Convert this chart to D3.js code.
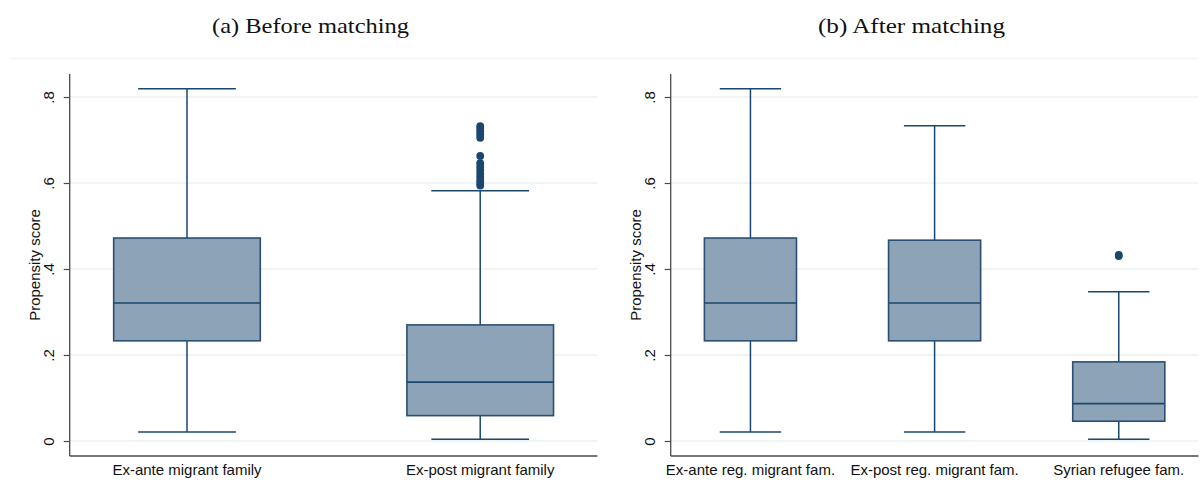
<!DOCTYPE html>
<html>
<head>
<meta charset="utf-8">
<script src="https://cdn.jsdelivr.net/npm/d3@7"></script>
<style>
  html, body { margin: 0; padding: 0; background: #ffffff; }
  svg { display: block; }
</style>
</head>
<body>
<svg id="chart" width="1200" height="486"></svg>
<script>
// ---------- DATA ----------
const titleA = "(a) Before matching";
const titleB = "(b) After matching";
const yAxisTitle = "Propensity score";
const yTicks = [0, 0.2, 0.4, 0.6, 0.8];
const yTickLabels = ["0", ".2", ".4", ".6", ".8"];

const catsA = ["Ex-ante migrant family", "Ex-post migrant family"];
const lowA  = [0.021, 0.004];
const q1A   = [0.233, 0.059];
const medA  = [0.321, 0.137];
const q3A   = [0.472, 0.270];
const highA = [0.819, 0.582];
const outA  = [[], [0.732, 0.726, 0.720, 0.713, 0.705, 0.663, 0.646, 0.638, 0.630, 0.622, 0.614, 0.606, 0.600, 0.594]];

const catsB = ["Ex-ante reg. migrant fam.", "Ex-post reg. migrant fam.", "Syrian refugee fam."];
const lowB  = [0.021, 0.021, 0.004];
const q1B   = [0.233, 0.233, 0.046];
const medB  = [0.321, 0.321, 0.087];
const q3B   = [0.472, 0.467, 0.184];
const highB = [0.819, 0.733, 0.347];
const outB  = [[], [], [0.430, 0.433]];

// ---------- STYLE ----------
const navy = "#1a476f";
const boxFill = "#8da3b7";
const gridCol = "#eaf1f2";
const axisCol = "#4a4a4a";
const sansFont = "'Liberation Sans', Arial, sans-serif";
const serifFont = "'Liberation Serif', 'Times New Roman', serif";

const svg = d3.select("#chart");

// separator line at top of panels
svg.append("line")
  .attr("x1", 10).attr("x2", 1198).attr("y1", 58.5).attr("y2", 58.5)
  .attr("stroke", "#eef3f3").attr("stroke-width", 1.5);

function panel(opts) {
  const { offsetX, title, titleX, titleW, cats, low, q1, med, q3, high, outs, pad } = opts;
  const axisX = 69.7 + offsetX;
  const plotRight = 597.5 + offsetX;
  const plotTop = 74, plotBottom = 456;

  const y = d3.scaleLinear().domain([0, 0.8]).range([441, 97]);
  const x = d3.scalePoint().domain(cats).range([axisX, plotRight]).padding(pad);
  const bw = x.step() * 0.5;
  const cw = bw * 2 / 3;

  const g = svg.append("g");

  // title
  g.append("text")
    .attr("x", titleX).attr("y", 33)
    .attr("text-anchor", "middle")
    .attr("font-family", serifFont)
    .attr("font-size", 21.5)
    .attr("textLength", titleW)
    .attr("lengthAdjust", "spacingAndGlyphs")
    .attr("fill", "#111")
    .text(title);

  // gridlines
  g.append("g").selectAll("line").data(yTicks).join("line")
    .attr("x1", axisX).attr("x2", plotRight)
    .attr("y1", d => y(d)).attr("y2", d => y(d))
    .attr("stroke", gridCol).attr("stroke-width", 1.5);

  // y axis
  const ax = g.append("g").attr("transform", `translate(${axisX},0)`)
    .call(d3.axisLeft(y).tickValues(yTicks)
      .tickFormat((d, i) => yTickLabels[i]).tickSize(6).tickSizeOuter(0));
  ax.select(".domain").remove();
  ax.selectAll(".tick line").attr("stroke", axisCol).attr("stroke-width", 1.2);
  ax.selectAll(".tick text")
    .attr("transform", "rotate(-90)")
    .attr("x", 0).attr("y", -16).attr("dy", 0)
    .attr("text-anchor", "middle")
    .attr("font-family", sansFont).attr("font-size", 15)
    .attr("fill", "#111");

  // axis lines
  g.append("line")
    .attr("x1", axisX).attr("x2", axisX).attr("y1", plotTop).attr("y2", plotBottom)
    .attr("stroke", axisCol).attr("stroke-width", 1.3);
  g.append("line")
    .attr("x1", axisX).attr("x2", plotRight).attr("y1", plotBottom).attr("y2", plotBottom)
    .attr("stroke", axisCol).attr("stroke-width", 1.3);

  // y axis title
  g.append("text")
    .attr("transform", `translate(${axisX - 30},265) rotate(-90)`)
    .attr("text-anchor", "middle")
    .attr("font-family", sansFont).attr("font-size", 15)
    .attr("fill", "#111")
    .text(yAxisTitle);

  // category labels
  g.append("g").selectAll("text").data(cats).join("text")
    .attr("x", d => x(d)).attr("y", 475)
    .attr("text-anchor", "middle")
    .attr("font-family", sansFont).attr("font-size", 15)
    .attr("fill", "#111")
    .text(d => d);

  const idx = cats.map((c, i) => i);
  const boxes = g.append("g");

  // whiskers
  boxes.selectAll(".wu").data(idx).join("line")
    .attr("x1", i => x(cats[i])).attr("x2", i => x(cats[i]))
    .attr("y1", i => y(q3[i])).attr("y2", i => y(high[i]))
    .attr("stroke", navy).attr("stroke-width", 1.5);
  boxes.selectAll(".wl").data(idx).join("line")
    .attr("x1", i => x(cats[i])).attr("x2", i => x(cats[i]))
    .attr("y1", i => y(q1[i])).attr("y2", i => y(low[i]))
    .attr("stroke", navy).attr("stroke-width", 1.5);
  // caps
  boxes.selectAll(".cu").data(idx).join("line")
    .attr("x1", i => x(cats[i]) - cw / 2).attr("x2", i => x(cats[i]) + cw / 2)
    .attr("y1", i => y(high[i])).attr("y2", i => y(high[i]))
    .attr("stroke", navy).attr("stroke-width", 1.5);
  boxes.selectAll(".cl").data(idx).join("line")
    .attr("x1", i => x(cats[i]) - cw / 2).attr("x2", i => x(cats[i]) + cw / 2)
    .attr("y1", i => y(low[i])).attr("y2", i => y(low[i]))
    .attr("stroke", navy).attr("stroke-width", 1.5);
  // boxes
  boxes.selectAll(".bx").data(idx).join("rect")
    .attr("x", i => x(cats[i]) - bw / 2).attr("width", bw)
    .attr("y", i => y(q3[i])).attr("height", i => y(q1[i]) - y(q3[i]))
    .attr("fill", boxFill).attr("stroke", "#2a4f73").attr("stroke-width", 1.6);
  // medians
  boxes.selectAll(".md").data(idx).join("line")
    .attr("x1", i => x(cats[i]) - bw / 2).attr("x2", i => x(cats[i]) + bw / 2)
    .attr("y1", i => y(med[i])).attr("y2", i => y(med[i]))
    .attr("stroke", navy).attr("stroke-width", 1.6);
  // outliers
  const pts = [];
  outs.forEach((arr, i) => arr.forEach(v => pts.push({ c: cats[i], v })));
  boxes.selectAll(".pt").data(pts).join("circle")
    .attr("cx", d => x(d.c)).attr("cy", d => y(d.v))
    .attr("r", 3.9).attr("fill", navy);
}

panel({ offsetX: 0, title: titleA, titleX: 310.5, titleW: 197, cats: catsA,
  low: lowA, q1: q1A, med: medA, q3: q3A, high: highA, outs: outA, pad: 0.4 });
panel({ offsetX: 601, title: titleB, titleX: 911.5, titleW: 187, cats: catsB,
  low: lowB, q1: q1B, med: medB, q3: q3B, high: highB, outs: outB, pad: 0.433 });
</script>
</body>
</html>
